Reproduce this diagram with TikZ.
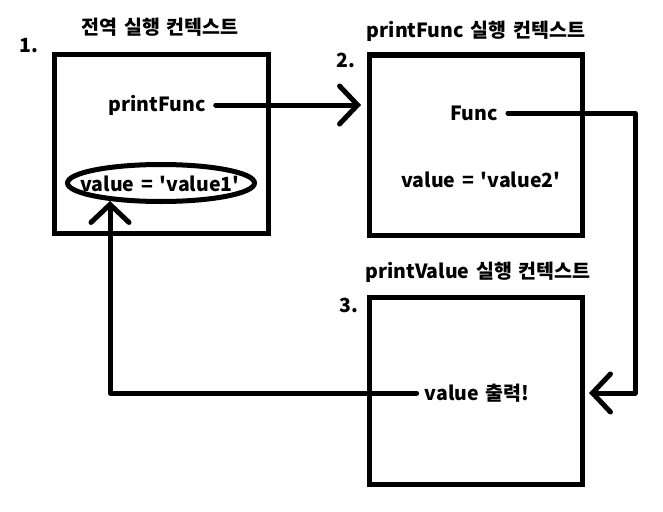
\documentclass[tikz,border=0pt]{standalone}
\usepackage{fontspec}
\setmainfont{Noto Sans CJK KR}[Ligatures=TeXOff,WordSpace=1.5]
\usetikzlibrary{arrows.meta,shapes.geometric}
\begin{document}
\begin{tikzpicture}[x=1pt,y=-1pt,
  ctx/.style={draw,line width=5pt,minimum width=#1,inner sep=0pt},
  lbl/.style={font=\fontsize{19.5}{22}\selectfont\bfseries,inner sep=0pt},
  conn/.style={line width=5pt,line cap=round,line join=round},
  arr/.style={conn,-{Straight Barb[length=18pt,width=38pt,line width=5pt,line cap=round]}}]
\useasboundingbox (0,0) rectangle (663,511);
% boxes
\node[ctx=214pt,minimum height=179pt] (b1) at (161,144) {};
\node[ctx=213pt,minimum height=180pt] (b2) at (476,145) {};
\node[ctx=213pt,minimum height=187pt] (b3) at (476,391) {};
% titles
\node[lbl] (t1) at (160,27) {전역 실행 컨텍스트};
\node[lbl] (t2) at (476,31) {printFunc 실행 컨텍스트};
\node[lbl] (t3) at (478,272) {printValue 실행 컨텍스트};
\node[lbl] (n1) at (29,46) {1.};
\node[lbl] (n2) at (346,60) {2.};
\node[lbl] (n3) at (349,305) {3.};
% contents
\node[lbl] (pf) at (157,105) {printFunc};
\node[draw,ellipse,line width=5pt,minimum width=187pt,minimum height=37pt,inner sep=0pt] (el) at (161,183) {};
\node[lbl] (v1) at (160,184) {value = 'value1'};
\node[lbl] (fn) at (474,113) {Func};
\node[lbl] (v2) at (481,180) {value = 'value2'};
\node[lbl] (out) at (477,393) {value 출력!};
% connectors
\draw[arr] ([xshift=10pt]pf.east) -- ([xshift=-6pt]b2.west |- pf.east);
\coordinate (c2) at (635,113);
\draw[arr] ([xshift=10pt]fn.east) -- (c2) |- ([xshift=4pt]b3.east |- out);
\coordinate (c3) at (110,393);
\draw[arr] ([xshift=-8pt]out.west) -- (c3) -- ([yshift=3pt]el.south -| c3);
\end{tikzpicture}
\end{document}
